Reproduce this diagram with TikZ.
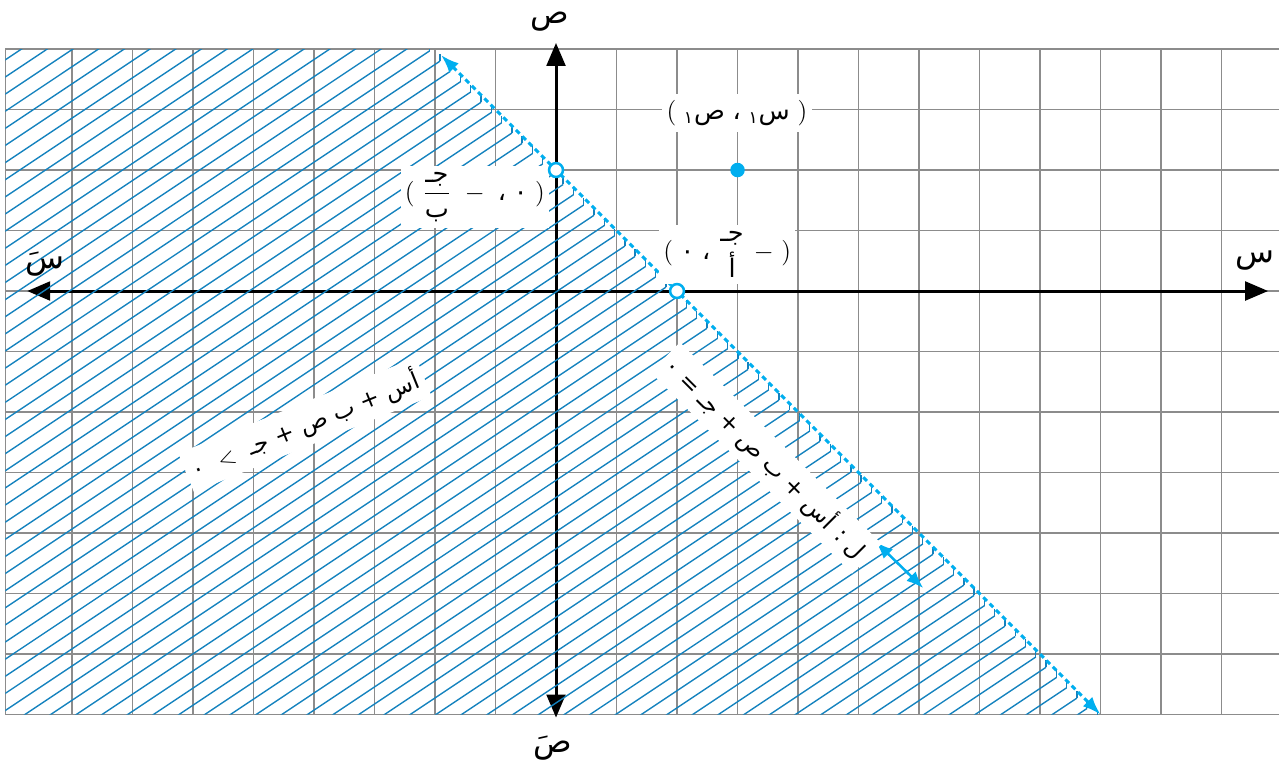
\documentclass[tikz,border=0pt]{standalone}
\usepackage{amsmath}
\usepackage{fontspec}
\newfontfamily\arabicfont[Script=Arabic]{DejaVu Sans}
\TeXXeTstate=1
\usetikzlibrary{arrows.meta}

\definecolor{lineblue}{RGB}{0,174,239}
\definecolor{hatchblue}{RGB}{20,130,190}

% arabic token inside math, and a fixed gap
\newcommand{\ar}[1]{\text{\arabicfont\beginR #1\endR}}
\newcommand{\gp}{\hspace{3.6pt}}

\begin{document}
\begin{tikzpicture}[
    gridline/.style={black!45,line width=0.55pt},
    axis/.style={line width=1.4pt,{Triangle[length=3.8mm,width=3.1mm]}-{Triangle[length=3.8mm,width=3.1mm]}},
    hatch/.style={hatchblue,line width=0.65pt},
    boundary/.style={lineblue,line width=1.4pt,dash pattern=on 2.4pt off 1.8pt,
      {Latex[length=3mm,width=2.2mm]}-{Latex[length=3mm,width=2.2mm]}},
    dblarrow/.style={lineblue,line width=1.2pt,{Latex[length=2.8mm,width=2.2mm]}-{Latex[length=2.8mm,width=2.2mm]}},
    hollow/.style={circle,draw=lineblue,fill=white,line width=1.2pt,inner sep=0pt,minimum size=2.3mm},
    fullpt/.style={circle,fill=lineblue,inner sep=0pt,minimum size=2.4mm},
    axlabel/.style={font=\fontsize{15}{16}\arabicfont,inner sep=0pt},
    lbl/.style={fill=white,inner xsep=2pt,inner ysep=3pt,font=\fontsize{12}{14}\selectfont},
    eqlbl/.style={fill=white,inner sep=3pt,font=\fontsize{11}{13}\arabicfont}]
  \useasboundingbox (-9.19,-7.88) rectangle (11.95,4.81);

  % grid
  \foreach \x in {-8,...,11}
    \draw[gridline] (\x,-7) -- (\x,4);
  \foreach \y in {-7,...,4}
    \draw[gridline] (-9.1,\y) -- (12,\y);
  \draw[gridline] (-9.1,-7) -- (-9.1,4);

  % axes
  \coordinate (xL) at (-8.74,0);
  \coordinate (xR) at (11.77,0);
  \coordinate (yB) at (0,-7.05);
  \coordinate (yT) at (0,4.1);
  \draw[axis] (xL) -- (xR);
  \draw[axis] (yB) -- (yT);

  % hatching of the half plane (lines, then the small ticks at the edge)
  \def\hm{0.6667}
  \def\hd{0.12}
  \begin{scope}
    \clip (-9.1,4) -- ({-2-\hd},4) -- ({9-\hd},-7) -- (-9.1,-7) -- cycle;
    \foreach \k in {-13.6,-13.317,...,10.6}
      \draw[hatch] (-9.2,{-9.2*\hm+\k}) -- (9.2,{9.2*\hm+\k});
  \end{scope}
  \begin{scope}
    \clip (-9.1,-7) rectangle (12,4);
    \foreach \k in {-13.6,-13.317,...,10.6} {
      \pgfmathsetmacro{\xo}{(2-\hd-\k)/(1+\hm)}
      \draw[hatch] (\xo,{2-\hd-\xo}) -- ++(0,\hd);
    }
  \end{scope}

  % the line l and its direction arrow
  \coordinate (lTop) at (-1.9,3.9);
  \coordinate (lBot) at (9,-7);
  \draw[boundary] (lTop) -- (lBot);
  \coordinate (nA) at (5.29,-4.15);
  \coordinate (nB) at (6.07,-4.91);
  \draw[dblarrow] (nA) -- (nB);

  % axis names
  \node[axlabel] (yName)  at (-0.1,4.46)  {ص};
  \node[axlabel] (xName)  at (11.55,0.5) {س};
  \node[axlabel] (xpName) at (-8.45,0.45) {سَ};
  \node[axlabel] (ypName) at (-0.05,-7.55) {صَ};

  % point labels
  \node[lbl] (labB) at (-1.34,1.55)
    {$(\gp\dfrac{\ar{جـ}}{\ar{ب}}\gp-\gp\ar{،}\gp\ar{٠}\gp)$};
  \node[lbl] (labP) at (2.99,2.94)
    {$(\gp{}_{\ar{١}}\ar{ص}\gp\ar{،}\gp{}_{\ar{١}}\ar{س}\gp)$};
  \node[lbl] (labA) at (2.83,0.6)
    {$(\gp\ar{٠}\gp\ar{،}\gp\genfrac{}{}{0pt}{0}{\ar{جـ}}{\ar{أ}}\gp-\gp)$};

  % points (on top of the labels)
  \node[hollow] (pB) at (0,2) {};
  \node[hollow] (pA) at (2,0) {};
  \node[fullpt] (pP) at (3,2) {};

  % equation and inequality
  \node[eqlbl,rotate=-45] (eqLine) at (3.47,-2.76)
    {\beginR ل : أس + ب ص + جـ = ٠\endR};
  \node[eqlbl,rotate=22] (eqHalf) at (-4.15,-2.21)
    {٠\ \ $<$\ \ \beginR أس + ب ص + جـ\endR};
\end{tikzpicture}
\end{document}
